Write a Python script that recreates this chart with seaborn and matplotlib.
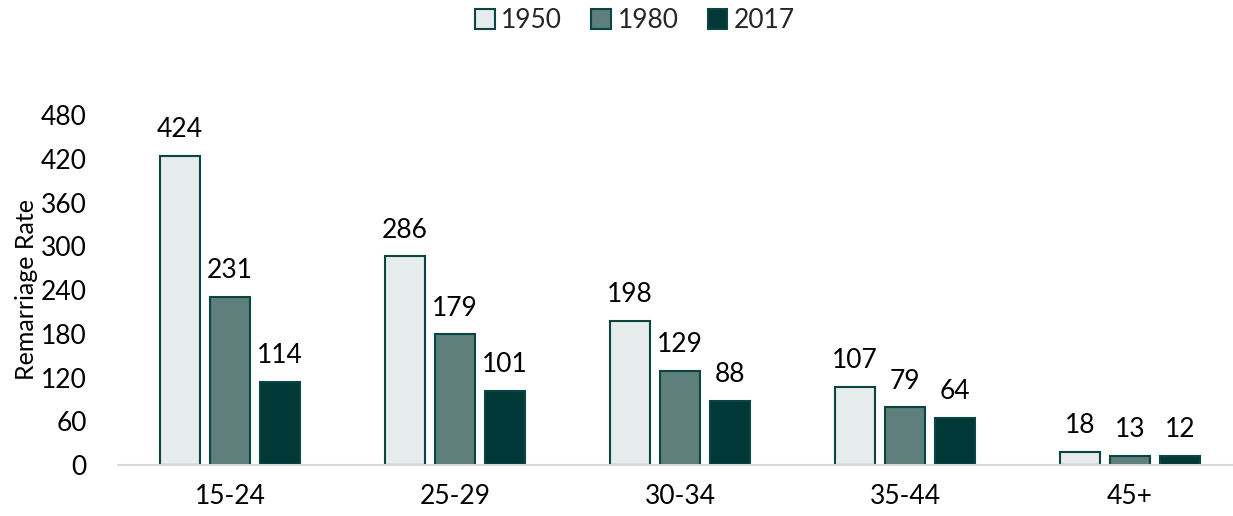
import seaborn as sns
import matplotlib.pyplot as plt
import pandas as pd

age_groups = ["15-24", "25-29", "30-34", "35-44", "45+"]
years = ["1950", "1980", "2017"]
rate_1950 = [424, 286, 198, 107, 18]
rate_1980 = [231, 179, 129, 79, 13]
rate_2017 = [114, 101, 88, 64, 12]
y_ticks = [0, 60, 120, 180, 240, 300, 360, 420, 480]

df = pd.DataFrame({
    "Age": age_groups * 3,
    "Year": [y for y in years for _ in age_groups],
    "Rate": rate_1950 + rate_1980 + rate_2017,
})

colors = {"1950": "#E6ECEB", "1980": "#5E7F7B", "2017": "#003737"}

sns.set_style("white")
plt.rcParams["font.family"] = ["Lato", "DejaVu Sans"]

fig = plt.figure(figsize=(12.33, 5.16), dpi=100)
ax = fig.add_axes([117.5 / 1233, 51 / 516, 1 - 117.5 / 1233, 350 / 516])

sns.barplot(data=df, x="Age", y="Rate", hue="Year", palette=colors,
            saturation=1, width=0.667, gap=0.2, edgecolor="#0B4542",
            linewidth=1.5, legend=False, ax=ax)

for container in ax.containers:
    ax.bar_label(container, padding=10, fontsize=19, color="#000000")

ax.set_ylim(0, 480)
ax.set_xlim(-0.5, (1233 - 230) / 225)
ax.set_yticks(y_ticks)
ax.tick_params(axis="both", labelsize=19, length=0, labelcolor="#000000")
ax.tick_params(axis="y", pad=22)
ax.tick_params(axis="x", pad=14)
ax.set_xlabel("")
ax.set_ylabel("Remarriage Rate", fontsize=18, labelpad=2, color="#000000")
sns.despine(ax=ax, left=True)
ax.spines["bottom"].set_color("#D9D9D9")
ax.spines["bottom"].set_linewidth(1.5)

handles = [plt.Rectangle((0, 0), 1, 1, facecolor=colors[y], edgecolor="#0B4542", linewidth=1.5)
           for y in years]
fig.legend(handles, years, loc="center", bbox_to_anchor=(0.515, 0.96), ncol=3,
           frameon=False, fontsize=19, handlelength=0.75, handleheight=0.75,
           handletextpad=0.25, columnspacing=1.1)

fig.savefig("out.png", dpi=100)
